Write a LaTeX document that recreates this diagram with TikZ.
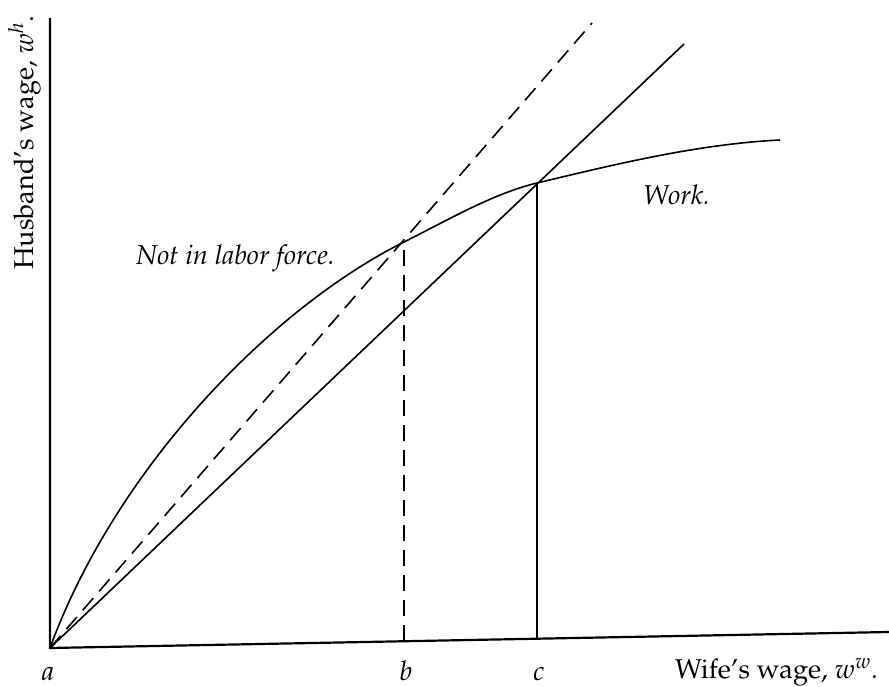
\documentclass[tikz,border=0pt]{standalone}
\usepackage[T1]{fontenc}
\usepackage{mathpazo}
\begin{document}
\begin{tikzpicture}[x=1pt,y=-1pt,
  axisline/.style={line width=2.2pt, line cap=rect},
  curveline/.style={line width=1.6pt},
  guideline/.style={line width=2.3pt},
  dashpat/.style={dash pattern=on 16pt off 9pt},
  lbl/.style={font=\fontsize{27.2}{32}\selectfont, inner sep=0pt},
]
\useasboundingbox (0,0) rectangle (889,687);
% key points
\coordinate (a) at (50,648);
\coordinate (xend) at (889,632);
\coordinate (ytop) at (50,19);
\coordinate (bbase) at (404,641.3);
\coordinate (btop) at (404,242);
\coordinate (cbase) at (537,638.7);
\coordinate (ctop) at (537,183);
\coordinate (dashend) at (592,23);
\coordinate (solidend) at (684,44);
\coordinate (curveend) at (780,140);
% axes
\draw[axisline] (ytop) -- (a) -- (xend);
% diagonals
\draw[curveline, dashpat] (a) -- (dashend);
\draw[curveline] (a) -- (solidend);
% curve
\draw[curveline] (a) .. controls (115,470) and (270,309) .. (btop)
  .. controls (448,220) and (493,193.6) .. (ctop)
  .. controls (618,163.6) and (699,144) .. (curveend);
% verticals
\draw[guideline, dashpat] (bbase) -- (btop);
\draw[guideline] (cbase) -- (ctop);
% labels
\node[lbl, anchor=base] (la) at (48,680) {$a$};
\node[lbl, anchor=base] (lb) at (406,680) {$b$};
\node[lbl, anchor=base] (lc) at (539,680) {$c$};
\node[lbl, anchor=base west] (lx) at (675,678) {Wife's wage, $w^w$.};
\node[lbl, anchor=base west, rotate=90] (ly) at (33,270) {Husband's wage, $w^h$.};
\node[lbl, anchor=base west] (lnot) at (136,265) {\itshape Not in labor force.};
\node[lbl, anchor=base west] (lwork) at (643,205) {\itshape Work.};
\end{tikzpicture}
\end{document}
